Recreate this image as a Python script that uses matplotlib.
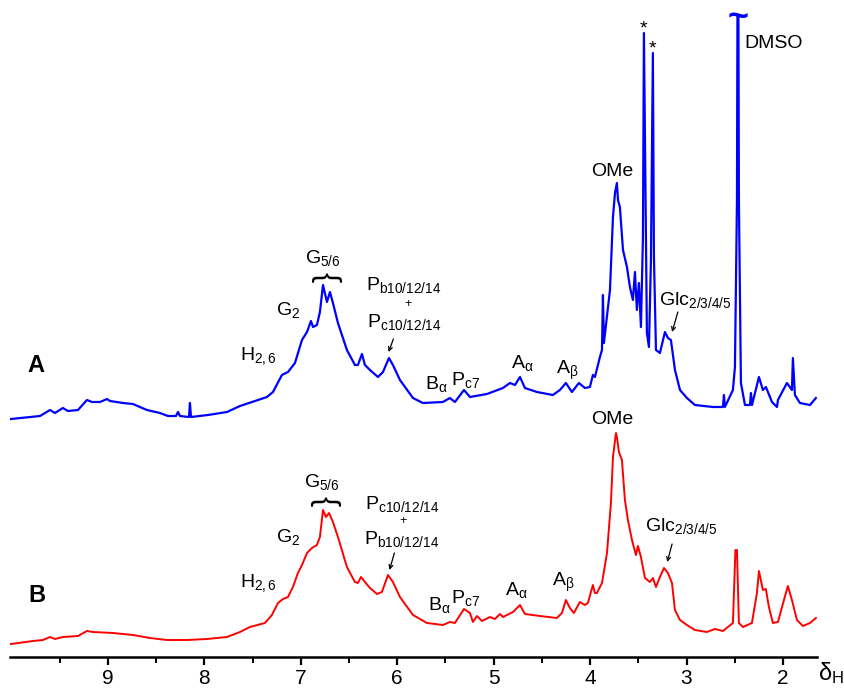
import matplotlib
matplotlib.use('Agg')
import matplotlib.pyplot as plt
from matplotlib.ticker import FixedLocator

plt.rcParams['font.family'] = ['Liberation Sans', 'DejaVu Sans']
plt.rcParams['mathtext.fontset'] = 'custom'
plt.rcParams['mathtext.rm'] = 'Liberation Sans'
plt.rcParams['mathtext.it'] = 'Liberation Sans'
plt.rcParams['mathtext.bf'] = 'Liberation Sans:bold'
plt.rcParams['mathtext.default'] = 'regular'

# ---------------- data: spectrum A (blue) ----------------
ppm_A = [10.006, 9.705, 9.601, 9.550, 9.467, 9.415, 9.311, 9.218, 9.166, 9.083,
         9.010, 8.979, 8.844, 8.741, 8.596, 8.461, 8.378, 8.295, 8.274, 8.253,
         8.160, 8.150, 8.139, 7.963, 7.766, 7.631, 7.538, 7.351, 7.289, 7.196,
         7.133, 7.061, 6.988, 6.936, 6.895, 6.874, 6.833, 6.802, 6.770, 6.729,
         6.698, 6.667, 6.615, 6.522, 6.439, 6.408, 6.366, 6.335, 6.283, 6.200,
         6.148, 6.086, 6.045, 5.972, 5.837, 5.734, 5.527, 5.454, 5.402, 5.308,
         5.246, 5.070, 4.904, 4.831, 4.779, 4.727, 4.676, 4.551, 4.386, 4.313,
         4.251, 4.189, 4.116, 4.054, 4.002, 3.971, 3.950, 3.898, 3.877, 3.867,
         3.857, 3.794, 3.763, 3.742, 3.722, 3.711, 3.691, 3.659, 3.618, 3.587,
         3.556, 3.535, 3.515, 3.494, 3.473, 3.452, 3.442, 3.421, 3.411, 3.390,
         3.369, 3.349, 3.338, 3.317, 3.276, 3.224, 3.193, 3.162, 3.120, 3.068,
         2.996, 2.913, 2.726, 2.623, 2.612, 2.602, 2.519, 2.498, 2.477, 2.472,
         2.462, 2.457, 2.436, 2.394, 2.342, 2.332, 2.321, 2.249, 2.208, 2.177,
         2.114, 2.062, 2.052, 1.959, 1.907, 1.897, 1.876, 1.824, 1.720, 1.658]
int_A = [238, 241, 247, 244, 249, 246, 247, 257, 255, 255,
         258, 256, 254, 253, 247, 244, 241, 241, 245, 241,
         240, 254, 240, 242, 245, 251, 254, 260, 265, 282,
         285, 294, 317, 325, 336, 330, 332, 345, 372, 355,
         365, 354, 334, 307, 292, 292, 303, 292, 287, 280,
         285, 299, 292, 277, 259, 254, 255, 259, 255, 267,
         260, 263, 269, 274, 272, 280, 269, 265, 262, 267,
         274, 265, 274, 269, 270, 282, 280, 300, 307, 362,
         314, 367, 440, 464, 474, 457, 450, 407, 390, 370,
         357, 385, 347, 374, 330, 420, 624, 414, 324, 310,
         397, 604, 400, 307, 304, 325, 319, 317, 287, 267,
         259, 252, 250, 250, 262, 250, 267, 290, 457, 642,
         642, 457, 274, 252, 252, 264, 252, 280, 267, 270,
         255, 250, 257, 274, 267, 299, 262, 254, 252, 259]

# ---------------- data: spectrum B (red) ----------------
ppm_B = [10.006, 9.778, 9.674, 9.601, 9.550, 9.467, 9.311, 9.218, 9.156, 8.948,
         8.741, 8.565, 8.388, 8.181, 7.973, 7.766, 7.631, 7.528, 7.372, 7.300,
         7.237, 7.185, 7.133, 7.082, 7.030, 6.988, 6.936, 6.885, 6.833, 6.802,
         6.770, 6.739, 6.708, 6.667, 6.615, 6.522, 6.439, 6.408, 6.376, 6.335,
         6.283, 6.211, 6.159, 6.096, 6.045, 5.972, 5.837, 5.692, 5.527, 5.454,
         5.402, 5.308, 5.246, 5.215, 5.173, 5.122, 5.039, 4.987, 4.935, 4.904,
         4.800, 4.727, 4.676, 4.520, 4.344, 4.292, 4.251, 4.209, 4.168, 4.106,
         4.054, 4.023, 3.971, 3.950, 3.929, 3.877, 3.825, 3.784, 3.763, 3.732,
         3.722, 3.701, 3.670, 3.639, 3.608, 3.566, 3.525, 3.504, 3.473, 3.431,
         3.380, 3.349, 3.317, 3.276, 3.234, 3.193, 3.151, 3.120, 3.068, 2.996,
         2.913, 2.789, 2.706, 2.623, 2.519, 2.493, 2.477, 2.457, 2.415, 2.322,
         2.270, 2.249, 2.208, 2.177, 2.146, 2.104, 2.052, 1.990, 1.949, 1.907,
         1.855, 1.793, 1.720, 1.658]
int_B = [13, 16, 17, 20, 18, 20, 21, 26, 25, 24,
         22, 19, 17, 17, 18, 20, 25, 30, 34, 42,
         54, 58, 60, 70, 84, 92, 104, 109, 112, 120,
         147, 140, 144, 135, 120, 90, 75, 74, 80, 75,
         69, 63, 65, 82, 75, 60, 42, 34, 32, 35,
         34, 48, 44, 35, 41, 36, 40, 38, 43, 40,
         45, 52, 43, 41, 39, 44, 57, 49, 44, 55,
         52, 54, 72, 64, 64, 74, 104, 154, 200, 224,
         220, 205, 197, 157, 137, 117, 102, 111, 100, 79,
         75, 79, 70, 80, 89, 84, 74, 47, 37, 32,
         27, 25, 28, 26, 34, 107, 107, 34, 30, 34,
         64, 86, 67, 68, 50, 34, 35, 57, 71, 57,
         37, 31, 34, 39]

# ---------------- axis ----------------
x_major = [9, 8, 7, 6, 5, 4, 3, 2]
x_major_labels = ['9', '8', '7', '6', '5', '4', '3', '2']
x_minor = [9.5, 8.5, 7.5, 6.5, 5.5, 4.5, 3.5, 2.5]

# ---------------- annotations (text, ppm, intensity) ----------------
labels_A = [
    (r'$H_{2,6}$', 7.44, 301),
    (r'$G_{2}$', 7.13, 347),
    (r'$G_{5/6}$', 6.77, 399),
    (r'$P_{b10/12/14}$', 5.93, 372),
    (r'$P_{c10/12/14}$', 5.93, 335),
    (r'$B_{α}$', 5.59, 273),
    (r'$P_{c7}$', 5.29, 277),
    (r'$A_{α}$', 4.70, 294),
    (r'$A_{β}$', 4.24, 287),
    ('OMe', 3.77, 485),
    ('DMSO', 2.10, 614),
]
labels_B = [
    (r'$P_{c10/12/14}$', 5.95, 153),
    (r'$P_{b10/12/14}$', 5.95, 118),
    (r'$H_{2,6}$', 7.44, 74),
    (r'$G_{2}$', 7.13, 120),
    (r'$G_{5/6}$', 6.78, 175),
    (r'$B_{α}$', 5.56, 52),
    (r'$P_{c7}$', 5.29, 59),
    (r'$A_{α}$', 4.76, 67),
    (r'$A_{β}$', 4.28, 75),
    ('OMe', 3.77, 238),
]
plus_signs = [(5.89, 353), (5.94, 136)]

fig = plt.figure(figsize=(8.45, 6.88), dpi=100)
ax = fig.add_axes([10 / 845, 31 / 688, 807 / 845, 657 / 688])

ax.plot(ppm_A, int_A, color='#0000FF', lw=1.6, solid_joinstyle='round')
ax.plot(ppm_B, int_B, color='#FF0000', lw=1.4, solid_joinstyle='round')

ax.set_xlim(10.016, 1.647)
ax.set_ylim(0, 657)

for s in ['top', 'left', 'right']:
    ax.spines[s].set_visible(False)
ax.spines['bottom'].set_linewidth(1.8)
ax.set_yticks([])
ax.xaxis.set_major_locator(FixedLocator(x_major))
ax.set_xticklabels(x_major_labels)
ax.xaxis.set_minor_locator(FixedLocator(x_minor))
ax.tick_params(axis='x', which='major', direction='out', length=6, width=1.6,
               labelsize=15, pad=3)
ax.tick_params(axis='x', which='minor', direction='out', length=4, width=1.4)

fs = 14
for t, x, y in labels_A + labels_B:
    ax.text(x, y, t, fontsize=fs, ha='center', va='center', color='black')
for x, y in plus_signs:
    ax.text(x, y, '+', fontsize=9, ha='center', va='center', color='black')

# Glc labels (left aligned)
ax.text(3.29, 357, r'$Glc_{2/3/4/5}$', fontsize=fs, ha='left', va='center')
ax.text(3.43, 131, r'$Glc_{2/3/4/5}$', fontsize=fs, ha='left', va='center')

# arrows
arrows = [((6.04, 318), (6.09, 305)),
          ((3.09, 345), (3.15, 325)),
          ((6.03, 104), (6.08, 87)),
          ((3.15, 113), (3.20, 95))]
for (x0, y0), (x1, y1) in arrows:
    ax.annotate('', xy=(x1, y1), xytext=(x0, y0),
                arrowprops=dict(arrowstyle='->', lw=0.9, color='black',
                                shrinkA=0, shrinkB=0, mutation_scale=7))

# braces over G5/6
ax.text(6.74, 380, '{', fontsize=22, rotation=-90, ha='center', va='center')
ax.text(6.76, 156, '{', fontsize=22, rotation=-90, ha='center', va='center')

# asterisks
ax.text(3.45, 628, '*', fontsize=14, ha='center', va='center')
ax.text(3.35, 608, '*', fontsize=14, ha='center', va='center')

# break mark on DMSO peak
ax.text(2.467, 640, '~', fontsize=26, fontweight='bold', color='#0000FF',
        ha='center', va='center')

# sample letters
ax.text(9.75, 292, 'A', fontsize=17, fontweight='bold', ha='center', va='center')
ax.text(9.74, 62, 'B', fontsize=17, fontweight='bold', ha='center', va='center')

# axis label
fig.text(0.999, 0.022, r'$δ_{H}$', fontsize=17, ha='right', va='center')

fig.savefig('out.png', dpi=100)
